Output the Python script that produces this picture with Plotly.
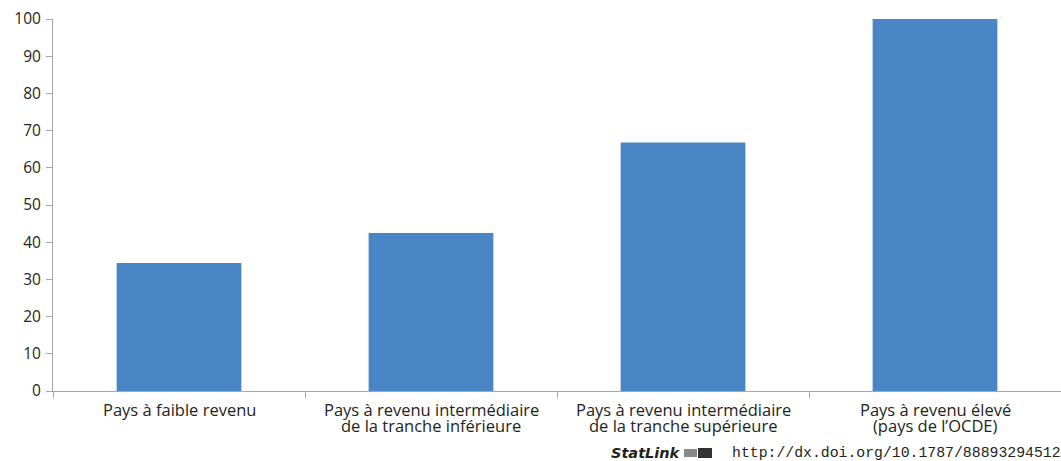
import plotly.graph_objects as go

categories = [
    "Pays à faible revenu",
    "Pays à revenu intermédiaire de la tranche inférieure",
    "Pays à revenu intermédiaire de la tranche supérieure",
    "Pays à revenu élevé (pays de l’OCDE)",
]
label_line1 = [
    "Pays à faible revenu",
    "Pays à revenu intermédiaire",
    "Pays à revenu intermédiaire",
    "Pays à revenu élevé",
]
label_line2 = [
    "",
    "de la tranche inférieure",
    "de la tranche supérieure",
    "(pays de l’OCDE)",
]
values = [34.4, 42.5, 66.8, 100]
y_ticks = [0, 10, 20, 30, 40, 50, 60, 70, 80, 90, 100]

L, T, B = 53, 19, 70
W, H = 1061, 461
plot_h = H - T - B

fig = go.Figure()
fig.add_trace(go.Bar(
    x=categories, y=values, width=0.495,
    marker=dict(color="#4a86c5", line=dict(width=0)),
))

axis_col = "#a6a6a6"
text_col = "#231f20"
fig.update_layout(
    width=W, height=H,
    margin=dict(l=L, r=0, t=T, b=B, autoexpand=False),
    paper_bgcolor="white", plot_bgcolor="white",
    showlegend=False,
    font=dict(family="Open Sans", size=15, color=text_col),
)
fig.update_xaxes(
    range=[-0.5, 3.5], showline=True, linecolor=axis_col, linewidth=1,
    ticks="outside", tickson="boundaries", ticklen=6, tickcolor=axis_col,
    showticklabels=False, showgrid=False, automargin=False,
)
fig.update_yaxes(
    range=[0, 100], tickvals=y_ticks, showline=True, linecolor=axis_col, linewidth=1,
    ticks="outside", ticklen=6, tickcolor=axis_col, showgrid=False, zeroline=False,
    tickfont=dict(size=15.5), automargin=False, ticklabelstandoff=2,
)

for cat, l1, l2 in zip(categories, label_line1, label_line2):
    fig.add_annotation(
        x=cat, xref="x", yref="paper", y=-(409 - (H - B)) / plot_h,
        text=l1, showarrow=False, xanchor="center", yanchor="middle",
        font=dict(size=16.5, color=text_col),
    )
    if l2:
        fig.add_annotation(
            x=cat, xref="x", yref="paper", y=-(426 - (H - B)) / plot_h,
            text=l2, showarrow=False, xanchor="center", yanchor="middle",
            font=dict(size=16.5, color=text_col),
        )

fig.add_annotation(
    xref="paper", yref="paper", x=(609 - L) / (W - L), y=-(453 - (H - B)) / plot_h,
    xanchor="left", yanchor="middle", showarrow=False,
    text="<b><i>StatLink</i></b>",
    font=dict(family="DejaVu Sans", size=14.5, color=text_col),
)
# small StatLink logo mark
fig.add_shape(type="rect", xref="paper", yref="paper",
              x0=(698 - L) / (W - L), x1=(712 - L) / (W - L),
              y0=-(458 - (H - B)) / plot_h, y1=-(448 - (H - B)) / plot_h,
              fillcolor="#333333", line=dict(width=0))
fig.add_shape(type="rect", xref="paper", yref="paper",
              x0=(684 - L) / (W - L), x1=(697 - L) / (W - L),
              y0=-(457 - (H - B)) / plot_h, y1=-(449 - (H - B)) / plot_h,
              fillcolor="#888888", line=dict(width=0))
fig.add_annotation(
    xref="paper", yref="paper", x=(730 - L) / (W - L), y=-(453 - (H - B)) / plot_h,
    xanchor="left", yanchor="middle", showarrow=False,
    text="http://dx.doi.org/10.1787/888932945129",
    font=dict(family="Liberation Mono", size=14.8, color=text_col),
)

fig.write_html("out.html", post_script="document.body.style.margin='0';",
               config={"displayModeBar": False})
